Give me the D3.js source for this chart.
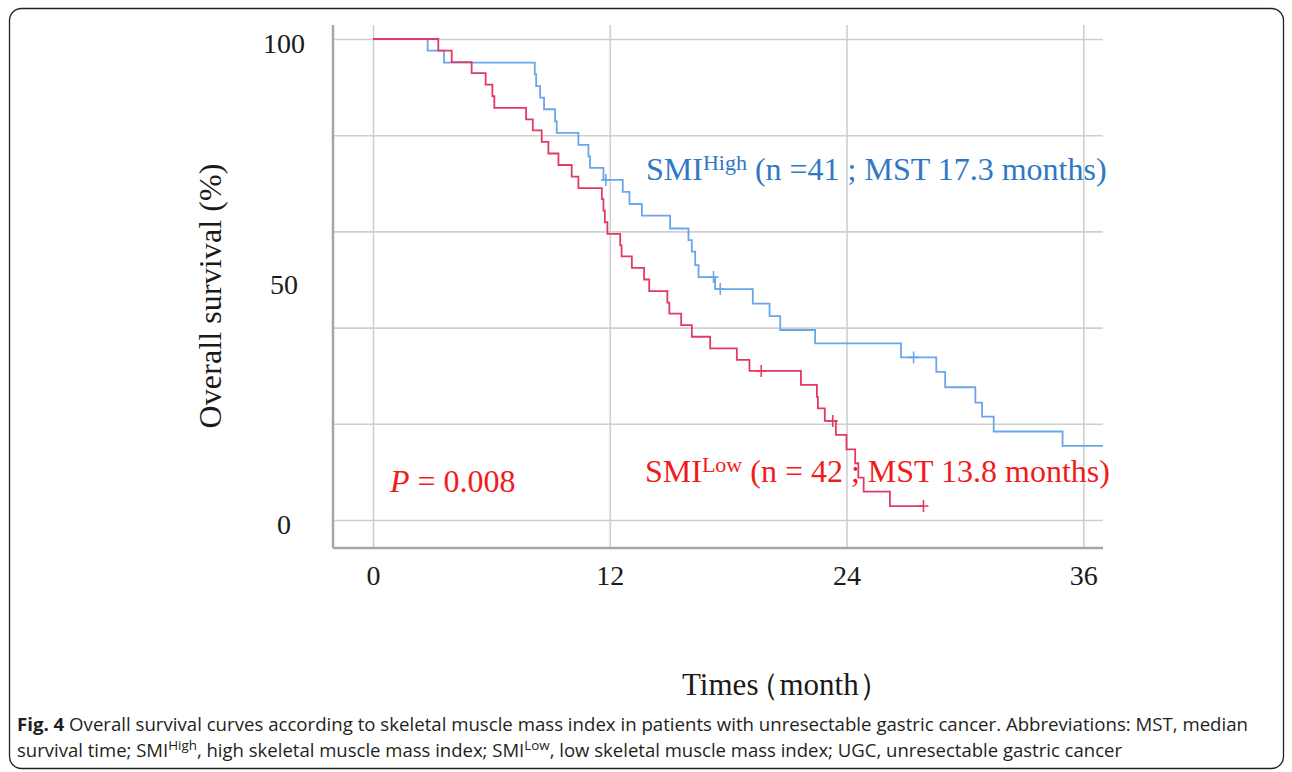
<!DOCTYPE html>
<html>
<head>
<meta charset="utf-8">
<script src="https://cdn.jsdelivr.net/npm/d3@7"></script>
<style>
  html, body { margin: 0; padding: 0; background: #fff; }
  svg { display: block; }
</style>
</head>
<body>
<div id="chart-container"></div>
<script>
'use strict';

// Kaplan-Meier steps (time in months, survival in %)
const highTimes = [0, 2.77, 3.6, 8.2, 8.27, 8.47, 8.67, 9.23, 9.31, 10.41, 10.92, 11.0, 11.68, 12.66, 13.0, 13.63, 15.06, 15.99, 16.16, 16.33, 16.5, 17.34, 19.25, 20.1, 20.64, 22.41, 26.76, 28.55, 29.0, 30.53, 30.87, 31.46, 34.95, 37];
const highSurv  = [100, 97.6, 95.1, 92.7, 90.2, 87.8, 85.4, 82.9, 80.5, 78.0, 75.6, 73.2, 70.7, 68.2, 65.7, 63.3, 60.6, 58.2, 55.8, 53.0, 50.5, 48.0, 45.0, 42.4, 39.5, 36.7, 33.8, 30.8, 27.6, 24.4, 21.5, 18.4, 15.4, 15.4];
const highCensor = [11.8, 17.26, 17.6, 27.4];

const lowTimes = [0, 3.31, 3.99, 5.0, 5.71, 6.05, 6.15, 7.76, 8.1, 8.55, 8.89, 9.4, 10.07, 10.41, 11.6, 11.68, 11.75, 11.88, 12.53, 12.6, 13.12, 13.74, 14.0, 14.92, 15.02, 15.62, 16.16, 17.09, 18.44, 19.08, 21.69, 22.5, 22.55, 22.9, 23.46, 24.0, 24.44, 24.6, 24.87, 26.2, 27.9];
const lowSurv  = [100, 97.6, 95.2, 92.9, 90.5, 88.1, 85.7, 83.3, 81.0, 78.6, 76.2, 73.8, 71.4, 69.0, 66.7, 64.3, 61.9, 59.5, 57.1, 54.8, 52.4, 50.0, 47.6, 45.2, 42.9, 40.5, 38.1, 35.7, 33.3, 31.0, 28.1, 25.6, 23.2, 20.6, 17.7, 14.7, 11.8, 8.8, 5.9, 2.9, 2.9];
const lowCensor = [19.68, 23.3, 27.9];

const xTicks = [0, 12, 24, 36];
const yTicks = [0, 50, 100];
const yGrid = [0, 20, 40, 60, 80, 100];

const width = 1292;
const height = 772;
const serif = "'Liberation Serif', 'Times New Roman', serif";

const svg = d3.select("#chart-container")
    .append("svg")
    .attr("width", width)
    .attr("height", height);

// outer frame
svg.append("rect")
    .attr("x", 9.5)
    .attr("y", 8.5)
    .attr("width", 1274)
    .attr("height", 760)
    .attr("rx", 12)
    .attr("fill", "none")
    .attr("stroke", "#222")
    .attr("stroke-width", 1.3);

const x = d3.scaleLinear().domain([0, 37]).range([373, 1103]);
const y = d3.scaleLinear().domain([0, 100]).range([520, 39]);

const axisLeftX = 333;
const axisBottomY = 548;

// horizontal grid
svg.append("g")
    .attr("transform", `translate(${axisLeftX},0)`)
    .call(d3.axisLeft(y).tickValues(yGrid).tickSize(-(1103 - axisLeftX)).tickFormat(""))
    .call(g => g.select(".domain").remove())
    .call(g => g.selectAll(".tick line").attr("stroke", "#cfcfcf").attr("stroke-width", 1.6));

// vertical grid
svg.append("g")
    .attr("transform", `translate(0,${axisBottomY})`)
    .call(d3.axisBottom(x).tickValues(xTicks).tickSize(-(axisBottomY - 25)).tickFormat(""))
    .call(g => g.select(".domain").remove())
    .call(g => g.selectAll(".tick line").attr("stroke", "#cfcfcf").attr("stroke-width", 1.6));

// axis lines
svg.append("line")
    .attr("x1", axisLeftX).attr("x2", axisLeftX)
    .attr("y1", 25).attr("y2", axisBottomY)
    .attr("stroke", "#a6a6a6").attr("stroke-width", 2.5);
svg.append("line")
    .attr("x1", axisLeftX).attr("x2", 1103)
    .attr("y1", axisBottomY).attr("y2", axisBottomY)
    .attr("stroke", "#a6a6a6").attr("stroke-width", 2.5);

// tick labels
svg.append("g")
    .attr("transform", "translate(284,0)")
    .call(d3.axisLeft(y).tickValues(yTicks).tickSize(0).tickPadding(0))
    .call(g => g.select(".domain").remove())
    .call(g => g.selectAll("text")
        .attr("text-anchor", "middle")
        .attr("dy", "0.38em")
        .attr("y", 3)
        .style("font-family", serif)
        .style("font-size", "28px")
        .attr("fill", "#1a1a1a"));

svg.append("g")
    .attr("transform", `translate(0,${axisBottomY})`)
    .call(d3.axisBottom(x).tickValues(xTicks).tickSize(0).tickPadding(0))
    .call(g => g.select(".domain").remove())
    .call(g => g.selectAll("text")
        .attr("dy", 0)
        .attr("y", 37)
        .style("font-family", serif)
        .style("font-size", "28px")
        .attr("fill", "#1a1a1a"));

// axis titles
svg.append("text")
    .attr("transform", "translate(221,296) rotate(-90)")
    .attr("text-anchor", "middle")
    .attr("textLength", 265)
    .style("font-family", serif)
    .style("font-size", "32px")
    .attr("fill", "#1a1a1a")
    .text("Overall survival (%)");

// per-glyph dx pulls the full-width bracket closer to "Times"
svg.append("text")
    .attr("x", 682)
    .attr("y", 695)
    .attr("dx", "0 0 0 0 0 -10")
    .style("font-family", serif)
    .style("font-size", "31px")
    .attr("fill", "#1a1a1a")
    .text("Times（month）");

// survival curves
const line = d3.line()
    .x(d => x(d[0]))
    .y(d => y(d[1]))
    .curve(d3.curveStepAfter);

function drawCurve(times, surv, censor, color) {
    const pts = times.map((t, i) => [t, surv[i]]);
    svg.append("path")
        .datum(pts)
        .attr("d", line)
        .attr("fill", "none")
        .attr("stroke", color)
        .attr("stroke-width", 1.8);

    // survival level at a censor time
    const at = t => {
        let s = surv[0];
        times.forEach((tt, i) => { if (tt <= t) s = surv[i]; });
        return s;
    };
    svg.selectAll(null)
        .data(censor)
        .enter()
        .append("path")
        .attr("d", t => `M${x(t)},${y(at(t)) - 6}V${y(at(t)) + 6}M${x(t) - 5},${y(at(t))}H${x(t) + 5}`)
        .attr("stroke", color)
        .attr("stroke-width", 1.6);
}

drawCurve(highTimes, highSurv, highCensor, "#6aa6ea");
drawCurve(lowTimes, lowSurv, lowCensor, "#e23a62");

// labels
function groupLabel(xPos, yPos, sup, rest, color) {
    const t = svg.append("text")
        .attr("x", xPos)
        .attr("y", yPos)
        .style("font-family", serif)
        .style("font-size", "32px")
        .attr("fill", color);
    t.append("tspan").text("SMI");
    t.append("tspan").attr("dy", -10).style("font-size", "22px").text(sup);
    t.append("tspan").attr("dy", 10).text(rest);
}

groupLabel(646, 180, "High", " (n =41 ; MST 17.3 months)", "#2f78c4");
groupLabel(645, 482, "Low", " (n = 42 ; MST 13.8 months)", "#f21b1b");

const pText = svg.append("text")
    .attr("x", 390)
    .attr("y", 492)
    .style("font-family", serif)
    .style("font-size", "32px")
    .attr("fill", "#f21b1b");
pText.append("tspan").style("font-style", "italic").text("P");
pText.append("tspan").text(" = 0.008");

// caption
const capFont = "'Open Sans', 'Noto Sans', sans-serif";
const cap1 = svg.append("text")
    .attr("x", 17)
    .attr("y", 731)
    .attr("textLength", 1231)
    .attr("lengthAdjust", "spacingAndGlyphs")
    .style("font-family", capFont)
    .style("font-size", "18px")
    .attr("fill", "#231f20");
cap1.append("tspan").style("font-weight", "bold").text("Fig. 4");
cap1.append("tspan").text(" Overall survival curves according to skeletal muscle mass index in patients with unresectable gastric cancer. Abbreviations: MST, median");

const cap2 = svg.append("text")
    .attr("x", 17)
    .attr("y", 757)
    .attr("textLength", 1105)
    .attr("lengthAdjust", "spacingAndGlyphs")
    .style("font-family", capFont)
    .style("font-size", "18px")
    .attr("fill", "#231f20");
cap2.append("tspan").text("survival time; SMI");
cap2.append("tspan").attr("dy", -7).style("font-size", "13px").text("High");
cap2.append("tspan").attr("dy", 7).text(", high skeletal muscle mass index; SMI");
cap2.append("tspan").attr("dy", -7).style("font-size", "13px").text("Low");
cap2.append("tspan").attr("dy", 7).text(", low skeletal muscle mass index; UGC, unresectable gastric cancer");
</script>
</body>
</html>
